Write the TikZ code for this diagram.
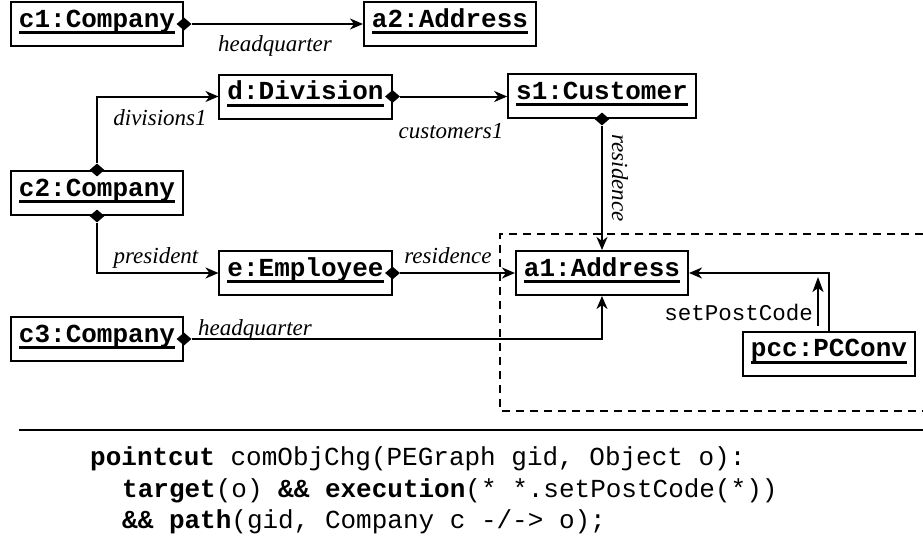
\documentclass[tikz,border=0pt]{standalone}
\usepackage{fontspec}
\setmainfont{Liberation Serif}
\setmonofont{Liberation Mono}
\usetikzlibrary{arrows.meta,shapes.geometric}
\newcommand\objlbl[1]{\setbox0\hbox{#1}\leavevmode\rlap{\raisebox{-7pt}{\rule{\wd0}{3pt}}}\box0}
\begin{document}
\begin{tikzpicture}[x=1pt,y=-1pt,
 obj/.style={draw, line width=2pt, font=\fontsize{26}{31}\selectfont\ttfamily\bfseries, inner xsep=8pt, inner ysep=0pt, text height=14pt, text depth=8pt, minimum height=44pt},
 dia/.style={diamond, fill=black, inner sep=0pt, minimum width=15pt, minimum height=13pt},
 conn/.style={line width=2pt, -{Stealth[length=13pt,width=11pt,inset=4pt]}},
 msg/.style={line width=1.8pt, -{Stealth[length=15pt,width=11pt,inset=4pt]}},
 lbl/.style={font=\fontsize{23}{28}\selectfont\itshape, inner sep=0pt},
 mlbl/.style={font=\fontsize{22.5}{27}\selectfont\ttfamily, inner sep=0pt, anchor=base east},
 code/.style={font=\fontsize{26}{31}\selectfont\ttfamily, anchor=base west, inner sep=0pt},
 region/.style={dashed, dash pattern=on 8pt off 6pt, line width=1.5pt}]
\useasboundingbox (0,0) rectangle (923,542);

% objects
\node[obj] (c1) at (97,24) {\objlbl{c1:Company}};
\node[obj] (a2) at (450,24) {\objlbl{a2:Address}};
\node[obj] (d) at (305.5,96.5) {\objlbl{d:Division}};
\node[obj] (s1) at (602,96) {\objlbl{s1:Customer}};
\node[obj] (c2) at (97,193) {\objlbl{c2:Company}};
\node[obj] (e) at (305.5,273) {\objlbl{e:Employee}};
\node[obj] (a1) at (602,273) {\objlbl{a1:Address}};
\node[obj] (c3) at (97,339) {\objlbl{c3:Company}};
\node[obj] (pcc) at (829,353.5) {\objlbl{pcc:PCConv}};

% composition diamonds
\node[dia] (c1d) at (c1.east) {};
\node[dia] (dd) at (d.east) {};
\node[dia] (s1d) at (s1.south) {};
\node[dia] (c2dt) at (c2.north) {};
\node[dia] (c2db) at (c2.south) {};
\node[dia] (ed) at (e.east) {};
\node[dia] (c3d) at (c3.east) {};

% connectors
\draw[conn] (c1d.east) -- (a2.west);
\draw[conn] (c2dt.north) |- (d.west);
\draw[conn] (dd.east) -- (s1.west |- dd.east);
\draw[conn] (s1d.south) -- (a1.north);
\draw[conn] (c2db.south) |- (e.west);
\draw[conn] (ed.east) -- (a1.west);
\draw[conn] (c3d.east) -| (a1.south);
\draw[conn] (pcc.north) |- (a1.east);

% message
\coordinate (m1) at (818,326);
\coordinate (m2) at (818,277);
\draw[msg] (m1) -- (m2);

% labels
\node[lbl, anchor=base] (lhq1) at (275,51) {headquarter};
\node[lbl, anchor=base] (ldiv) at (160,125) {divisions1};
\node[lbl, anchor=base] (lcus) at (451,138) {customers1};
\node[lbl, rotate=-90] (lres1) at (620,178) {residence};
\node[lbl, anchor=base] (lres2) at (448,263) {residence};
\node[lbl, anchor=base] (lpre) at (156,263) {president};
\node[lbl, anchor=base] (lhq3) at (255,335) {headquarter};
\node[mlbl] (lset) at (813,320) {setPostCode};

% dashed region
\draw[region] (923,234) -- (500,234) -- (500,411) -- (923,411);

% separator
\draw[line width=2.5pt] (19,430) -- (923,430);

% code
\node[code] (code1) at (90,465) {\textbf{pointcut} comObjChg(PEGraph gid, Object o):};
\node[code] (code2) at (122,497) {\textbf{target}(o) \textbf{\&\&} \textbf{execution}(* *.setPostCode(*))};
\node[code] (code3) at (122,528) {\textbf{\&\&} \textbf{path}(gid, Company c -/-> o);};
\end{tikzpicture}
\end{document}
